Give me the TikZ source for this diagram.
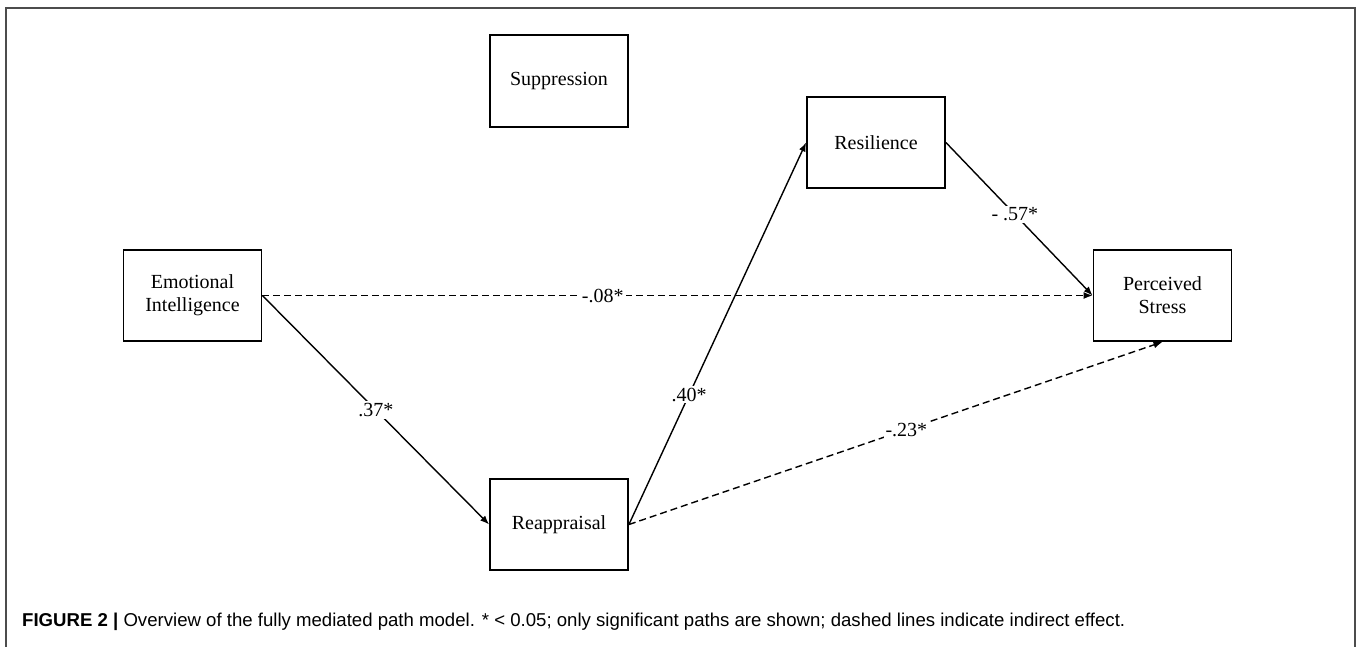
\documentclass[tikz,border=0pt]{standalone}
\usepackage{fontspec}
\setmainfont{Liberation Serif}
\newfontfamily\capfont{Liberation Sans}
\usetikzlibrary{arrows.meta}

\begin{document}
\begin{tikzpicture}[x=1pt, y=-1pt,
    varbox/.style={draw, line width=1.8pt, minimum width=138pt, minimum height=91pt,
        align=center, inner sep=0pt, font=\fontsize{20}{23}\selectfont},
    direct/.style={line width=1.4pt, -{Latex[length=9pt, width=7pt]}},
    indirect/.style={direct, dash pattern=on 7pt off 4pt},
    coef/.style={fill=white, inner sep=2pt, font=\fontsize{20}{23}\selectfont}]
    \useasboundingbox (0,0) rectangle (1357,646);

    % frame
    \draw[gray!60!black, line width=1.5pt] (6,700) -- (6,8) -- (1355,8) -- (1355,700);

    % variables
    \node[varbox, minimum height=92pt] (supp) at (559,81) {Suppression};
    \node[varbox] (emo) at (192.5,295.5) {Emotional\\Intelligence};
    \node[varbox] (resil) at (876,142.5) {Resilience};
    \node[varbox] (stress) at (1162.5,295.5) {Perceived\\Stress};
    \node[varbox] (reapp) at (559,524.5) {Reappraisal};

    % paths
    \draw[indirect] (emo.east) -- (stress.west)
        node[coef, pos=0.41] (c08) {-.08*};
    \draw[direct] (emo.east) -- (reapp.west)
        node[coef, pos=0.5] (c37) {.37*};
    \draw[direct] (reapp.east) -- (resil.west)
        node[coef, pos=0.34] (c40) {.40*};
    \draw[direct] (resil.east) -- (stress.west)
        node[coef, pos=0.47] (c57) {- .57*};
    \draw[indirect] (reapp.east) -- (stress.south)
        node[coef, pos=0.52] (c23) {-.23*};

    % caption
    \node[anchor=west, inner sep=0pt, font=\capfont\fontsize{18.6}{22}\selectfont] (cap) at (22,622)
        {\textbf{FIGURE 2 |} Overview of the fully mediated path model. * < 0.05; only significant paths are shown; dashed lines indicate indirect effect.};
\end{tikzpicture}
\end{document}
